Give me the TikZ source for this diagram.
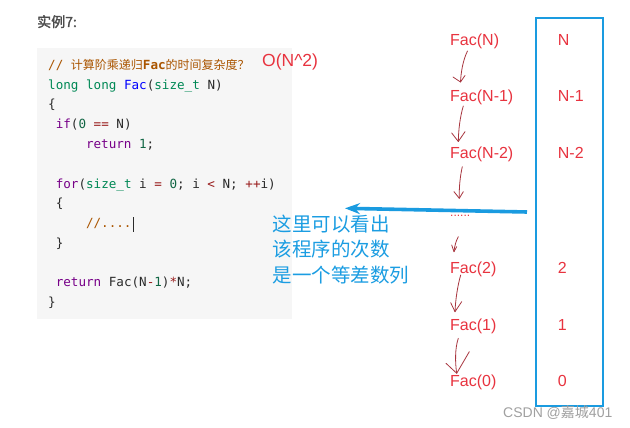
\documentclass[tikz,border=0pt]{standalone}
\usepackage{fontspec}
\setmainfont{Liberation Sans}
\newfontfamily\cjk{Noto Sans CJK SC}
\newfontfamily\cjkb[FakeBold=1.6]{Noto Sans CJK SC}
\newfontfamily\codefont{DejaVu Sans Mono}
\usetikzlibrary{arrows.meta}
\definecolor{kw}{HTML}{770088}
\definecolor{ty}{HTML}{008855}
\definecolor{df}{HTML}{0000FF}
\definecolor{nm}{HTML}{116644}
\definecolor{op}{HTML}{981A1A}
\definecolor{cm}{HTML}{AA5500}
\definecolor{codedark}{HTML}{2A2A2A}
\definecolor{codebg}{HTML}{F6F6F6}
\definecolor{facred}{HTML}{E8333F}
\definecolor{handred}{HTML}{A8363F}
\definecolor{blueline}{HTML}{1A9BE0}
\definecolor{bluetext}{HTML}{1B9DE2}
\definecolor{titlegray}{HTML}{4D4D4D}
\definecolor{wmgray}{HTML}{A0A0A0}
\newcommand{\cjks}[1]{{\cjk\fontsize{12}{14}\selectfont #1}}
\begin{document}
\begin{tikzpicture}[x=1pt,y=-1pt,
  code/.style={anchor=base west, inner sep=0pt, text=codedark, font=\codefont\fontsize{12.6}{15}\selectfont},
  fac/.style={anchor=base west, inner sep=0pt, text=facred, font=\fontsize{16}{19}\selectfont},
  notetext/.style={anchor=west, inner sep=0pt, text=bluetext, font=\cjk\fontsize{19.5}{23}\selectfont},
  hand/.style={draw=handred, line width=0.8pt, line cap=round, line join=round}]
\useasboundingbox (0,0) rectangle (630,428);
\fill[white] (0,0) rectangle (630,428);
% title
\node[anchor=base west, inner sep=0pt, text=titlegray, font=\cjkb\fontsize{14}{16}\selectfont] (title) at (37,27) {实例7:};
% code box
\node[fill=codebg, anchor=north west, minimum width=255pt, minimum height=271pt, inner sep=0pt] (codebox) at (37,48) {};
% code lines
\node[code] (c0) at (48,69.5) {\textcolor{cm}{//\ \cjks{计算阶乘递归}\textbf{Fac}\cjks{的时间复杂度？}}};
\node[code] (c1) at (48,89.25) {\textcolor{ty}{long\ long}\ \textcolor{df}{Fac}(\textcolor{ty}{size\_t}\ N)};
\node[code] (c2) at (48,109) {\{};
\node[code] (c3) at (55.57,128.75) {\textcolor{kw}{if}(\textcolor{nm}{0}\ \textcolor{op}{==}\ N)};
\node[code] (c4) at (85.85,148.5) {\textcolor{kw}{return}\ \textcolor{nm}{1};};
\node[code] (c6) at (55.57,188) {\textcolor{kw}{for}(\textcolor{ty}{size\_t}\ i\ \textcolor{op}{=}\ \textcolor{nm}{0};\ i\ \textcolor{op}{<}\ N;\ \textcolor{op}{++}i)};
\node[code] (c7) at (55.57,207.75) {\{};
\node[code] (c8) at (85.85,227.5) {\textcolor{cm}{//....}};
\node[code] (c9) at (55.57,247.25) {\}};
\node[code] (c11) at (55.57,286.75) {\textcolor{kw}{return}\ Fac(N\textcolor{op}{-}\textcolor{nm}{1})\textcolor{op}{*}N;};
\node[code] (c12) at (48,306.5) {\}};
\draw[codedark, line width=0.9pt] (c8.base east) ++(1.5,4) -- ++(0,-15);
% complexity
\node[anchor=base west, inner sep=0pt, text=facred, font=\fontsize{17.5}{20}\selectfont] (big) at (262,67) {O(N\textasciicircum 2)};
% Fac column
\node[fac] (f0) at (450,46) {Fac(N)};
\node[fac] (f1) at (450,102) {Fac(N-1)};
\node[fac] (f2) at (450,158) {Fac(N-2)};
\node[anchor=base west, inner sep=0pt, text=facred, font=\fontsize{12}{14}\selectfont] (f3) at (450,216) {......};
\node[fac] (f4) at (450,273) {Fac(2)};
\node[fac] (f5) at (450,330) {Fac(1)};
\node[fac] (f6) at (450,386) {Fac(0)};
% counts
\node[fac] (n0) at (557.7,46) {N};
\node[fac] (n1) at (557.7,102) {N-1};
\node[fac] (n2) at (557.7,158) {N-2};
\node[fac] (n4) at (557.7,273) {2};
\node[fac] (n5) at (557.7,330) {1};
\node[fac] (n6) at (557.7,386) {0};
% blue frame
\node[draw=blueline, line width=2.2pt, anchor=north west, minimum width=67pt, minimum height=388pt, inner sep=0pt] (col) at (535,17) {};
% hand arrows
\coordinate (h1s) at (467.5,51);  \coordinate (h1e) at (460.5,82);
\coordinate (h2s) at (463.3,106); \coordinate (h2e) at (458.3,141.5);
\coordinate (h3s) at (462.3,166.7); \coordinate (h3e) at (459.3,198.3);
\coordinate (h4s) at (458.3,236.7); \coordinate (h4e) at (454,251.7);
\coordinate (h5s) at (460.7,275); \coordinate (h5e) at (455,311.7);
\coordinate (h6s) at (458.3,338.3); \coordinate (h6e) at (456.7,373.3);
\draw[hand] (h1s) .. controls (463,60) and (461,72) .. (h1e);
\draw[hand] (h1e) -- +(-7.5,-5) (h1e) -- +(4.5,-6.5);
\draw[hand] (h2s) .. controls (460,117) and (458.5,130) .. (h2e);
\draw[hand] (h2e) -- +(-6.6,-8.5) (h2e) -- +(6.7,-9.8);
\draw[hand] (h3s) .. controls (460,177) and (459,188) .. (h3e);
\draw[hand] (h3e) -- +(-5.3,-6.6) (h3e) -- +(4,-6.6);
\draw[hand] (h4s) .. controls (456,241) and (454.5,246) .. (h4e);
\draw[hand] (h4e) -- +(-2.3,-6.7) (h4e) -- +(2.7,-5);
\draw[hand] (h5s) .. controls (457.5,286) and (455.5,300) .. (h5e);
\draw[hand] (h5e) -- +(-4.3,-9) (h5e) -- +(6.7,-10);
\draw[hand] (h6s) .. controls (455,348) and (455,362) .. (h6e);
\draw[hand] (h6e) -- +(-10.7,-10) (h6e) -- +(12.6,-21.6);
% blue arrow
\coordinate (arrS) at (527,212);
\coordinate (arrE) at (345,208.3);
\draw[blueline, line width=3.6pt, -{Stealth[length=15pt,width=11pt]}] (arrS) -- (arrE);
% note
\node[notetext] (t1) at (272.5,224) {这里可以看出};
\node[notetext] (t2) at (272.5,249.5) {该程序的次数};
\node[notetext] (t3) at (272.5,275) {是一个等差数列};
% watermark
\node[anchor=base west, inner sep=0pt, text=wmgray, font=\fontsize{14}{16}\selectfont] (wm) at (503,417) {CSDN @{\cjk 嘉城}401};
\end{tikzpicture}
\end{document}
